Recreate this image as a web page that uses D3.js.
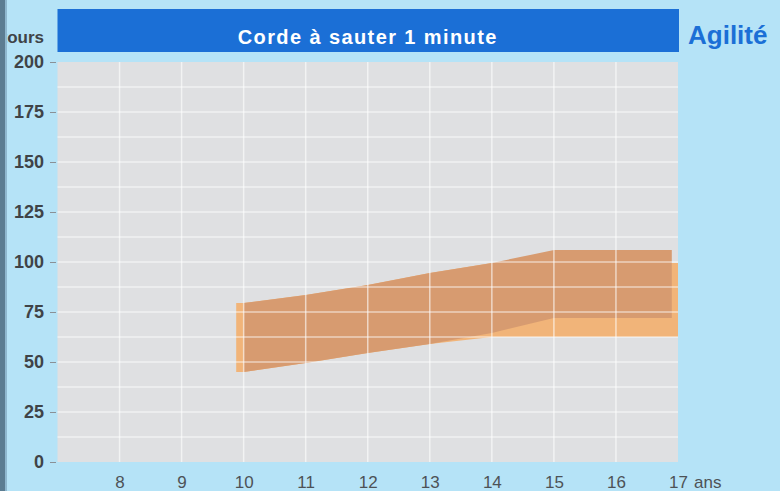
<!DOCTYPE html>
<html>
<head>
<meta charset="utf-8">
<script src="https://cdn.jsdelivr.net/npm/d3@7"></script>
<style>
  body { margin: 0; background: #b5e3f7; }
  svg { display: block; font-family: "Liberation Sans", Arial, sans-serif; }
  .y-label text { font-size: 18px; font-weight: bold; fill: #3f4347; }
  .x-label text { font-size: 17px; fill: #4d5256; }
</style>
</head>
<body>
<svg id="svg" width="780" height="491"></svg>
<script>
// ages (ans) and counts (tours)
var years = [8, 9, 10, 11, 12, 13, 14, 15, 16, 17];
var countTicks = [0, 25, 50, 75, 100, 125, 150, 175, 200];

// dark band
var darkAges = [10, 11, 12, 13, 14, 15, 16, 16.9];
var darkLow = [45, 49.5, 54.5, 59, 64.5, 72, 72, 72];
var darkHigh = [79.5, 83.5, 88.5, 94.5, 99.5, 106, 106, 106];

// light band (mostly under the dark one)
var lightAges = [9.88, 10, 11, 12, 13, 14, 15, 16, 17];
var lightLow = [45, 45, 49.5, 54.5, 59, 62.5, 62.5, 62.5, 62.5];
var lightHigh = [79.5, 79.5, 83.5, 88.5, 94.5, 99.5, 99.5, 99.5, 99.5];

var title = "Corde à sauter 1 minute";
var side = "Agilité";

var svg = d3.select("#svg");
var w = 780, h = 491;
var plotLeft = 57.5, plotRight = 678, plotTop = 62, plotBottom = 462;

var xScale = d3.scaleLinear().domain([7, 17]).range([plotLeft, plotRight]);
var yScale = d3.scaleLinear().domain([0, 200]).range([plotBottom, plotTop]);

svg.append("rect")
    .attr("width", w).attr("height", h)
    .attr("fill", "#b5e3f7");

// title bar
svg.append("rect")
    .attr("x", plotLeft).attr("y", 9)
    .attr("width", plotRight + 1 - plotLeft).attr("height", 43)
    .attr("fill", "#1b6fd6");

svg.append("text")
    .text(title)
    .attr("x", (plotLeft + plotRight) / 2)
    .attr("y", 44)
    .attr("text-anchor", "middle")
    .attr("fill", "white")
    .attr("font-size", "20px")
    .attr("font-weight", "bold")
    .attr("letter-spacing", "1.4px");

svg.append("text")
    .text(side)
    .attr("x", 688)
    .attr("y", 44)
    .attr("fill", "#1b6fd6")
    .attr("font-size", "26px")
    .attr("font-weight", "bold");

// plot background
svg.append("rect")
    .attr("x", plotLeft).attr("y", plotTop)
    .attr("width", plotRight - plotLeft).attr("height", plotBottom - plotTop)
    .attr("fill", "#dfe0e2");

var band = function(ages, low, high) {
    return d3.area()
        .x(function(d, i) { return xScale(ages[i]); })
        .y0(function(d, i) { return yScale(low[i]); })
        .y1(function(d, i) { return yScale(high[i]); })(ages);
};

svg.append("path")
    .attr("d", band(lightAges, lightLow, lightHigh))
    .attr("fill", "#f1b479");

svg.append("path")
    .attr("d", band(darkAges, darkLow, darkHigh))
    .attr("fill", "#d79b70");

// grid, drawn over the bands
var hLines = d3.range(12.5, 200, 12.5);
svg.append("g").selectAll("line")
    .data(hLines)
    .enter()
    .append("line")
    .attr("x1", plotLeft).attr("x2", plotRight)
    .attr("y1", function(d) { return yScale(d); })
    .attr("y2", function(d) { return yScale(d); })
    .attr("stroke", "white")
    .attr("stroke-opacity", 0.55)
    .attr("stroke-width", 1.5);

svg.append("g").selectAll("line")
    .data(years.slice(0, -1))
    .enter()
    .append("line")
    .attr("x1", function(d) { return xScale(d); })
    .attr("x2", function(d) { return xScale(d); })
    .attr("y1", plotTop).attr("y2", plotBottom)
    .attr("stroke", "white")
    .attr("stroke-opacity", 0.6)
    .attr("stroke-width", 1.5);

// axes
var yAxis = d3.axisLeft(yScale).tickValues(countTicks).tickSize(6).tickPadding(6);
var gy = svg.append("g")
    .attr("class", "y-label")
    .attr("transform", "translate(56,0)")
    .call(yAxis);
gy.select(".domain").remove();
gy.selectAll("line").attr("stroke", "#8a9096");
gy.selectAll("text").attr("font-family", null).attr("font-size", null);

var xAxis = d3.axisBottom(xScale).tickValues(years).tickSize(0).tickPadding(14);
var gx = svg.append("g")
    .attr("class", "x-label")
    .attr("transform", "translate(0," + plotBottom + ")")
    .call(xAxis);
gx.select(".domain").remove();
gx.selectAll("text").attr("font-family", null).attr("font-size", null);

svg.append("text")
    .text("ans")
    .attr("x", 694)
    .attr("y", 488)
    .attr("fill", "#4d5256")
    .attr("font-size", "17px");

svg.append("text")
    .text("tours")
    .attr("x", 44)
    .attr("y", 43)
    .attr("text-anchor", "end")
    .attr("fill", "#3f4347")
    .attr("font-size", "17px")
    .attr("font-weight", "bold");

// binding shadow on the left edge
svg.append("rect")
    .attr("x", 0).attr("y", 0)
    .attr("width", 5).attr("height", h)
    .attr("fill", "#5c7d92");
svg.append("rect")
    .attr("x", 5).attr("y", 0)
    .attr("width", 2).attr("height", h)
    .attr("fill", "#8fb8cf");
</script>
</body>
</html>
